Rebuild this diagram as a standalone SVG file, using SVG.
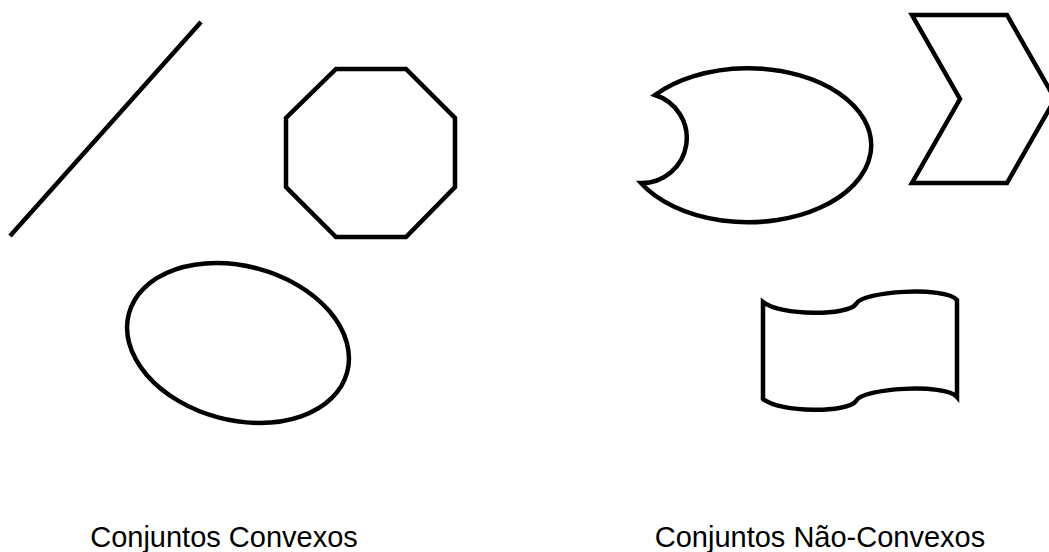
<svg xmlns="http://www.w3.org/2000/svg" width="1049" height="552" viewBox="0 0 1049 552">
<style>
.s{fill:none;stroke:#000;stroke-width:4.5;stroke-linejoin:miter}
.t{font-family:"Liberation Sans",Arial,sans-serif;font-size:29px;fill:#000;text-anchor:middle}
</style>
<rect width="1049" height="552" fill="#fff"/>
<g id="line"><line class="s" x1="10" y1="236" x2="201" y2="22"/></g>
<g id="octagon"><polygon class="s" points="336,69 406,69 455,118 455,187 406,237 336,237 286,187 286,118"/></g>
<g id="ellipse"><ellipse class="s" cx="238" cy="343" rx="113" ry="77" transform="rotate(15 238 343)"/></g>
<g id="crescent"><path class="s" d="M655,95 A123,77 0 1 1 641,183 A45,45 0 0 0 655,95 Z"/></g>
<g id="chevron"><polygon class="s" points="912,15 1007,15 1055,99 1007,183 912,183 960,99"/></g>
<g id="wave"><path class="s" d="M763,302 C780,316 848,316 856,304 C862,291 945,286 957,300 L957,397 C945,383 862,388 856,401 C848,413 780,413 763,399 Z"/></g>
<g id="labels">
<text class="t" x="224" y="547">Conjuntos Convexos</text>
<text class="t" x="820" y="547">Conjuntos Não-Convexos</text>
</g>
</svg>
